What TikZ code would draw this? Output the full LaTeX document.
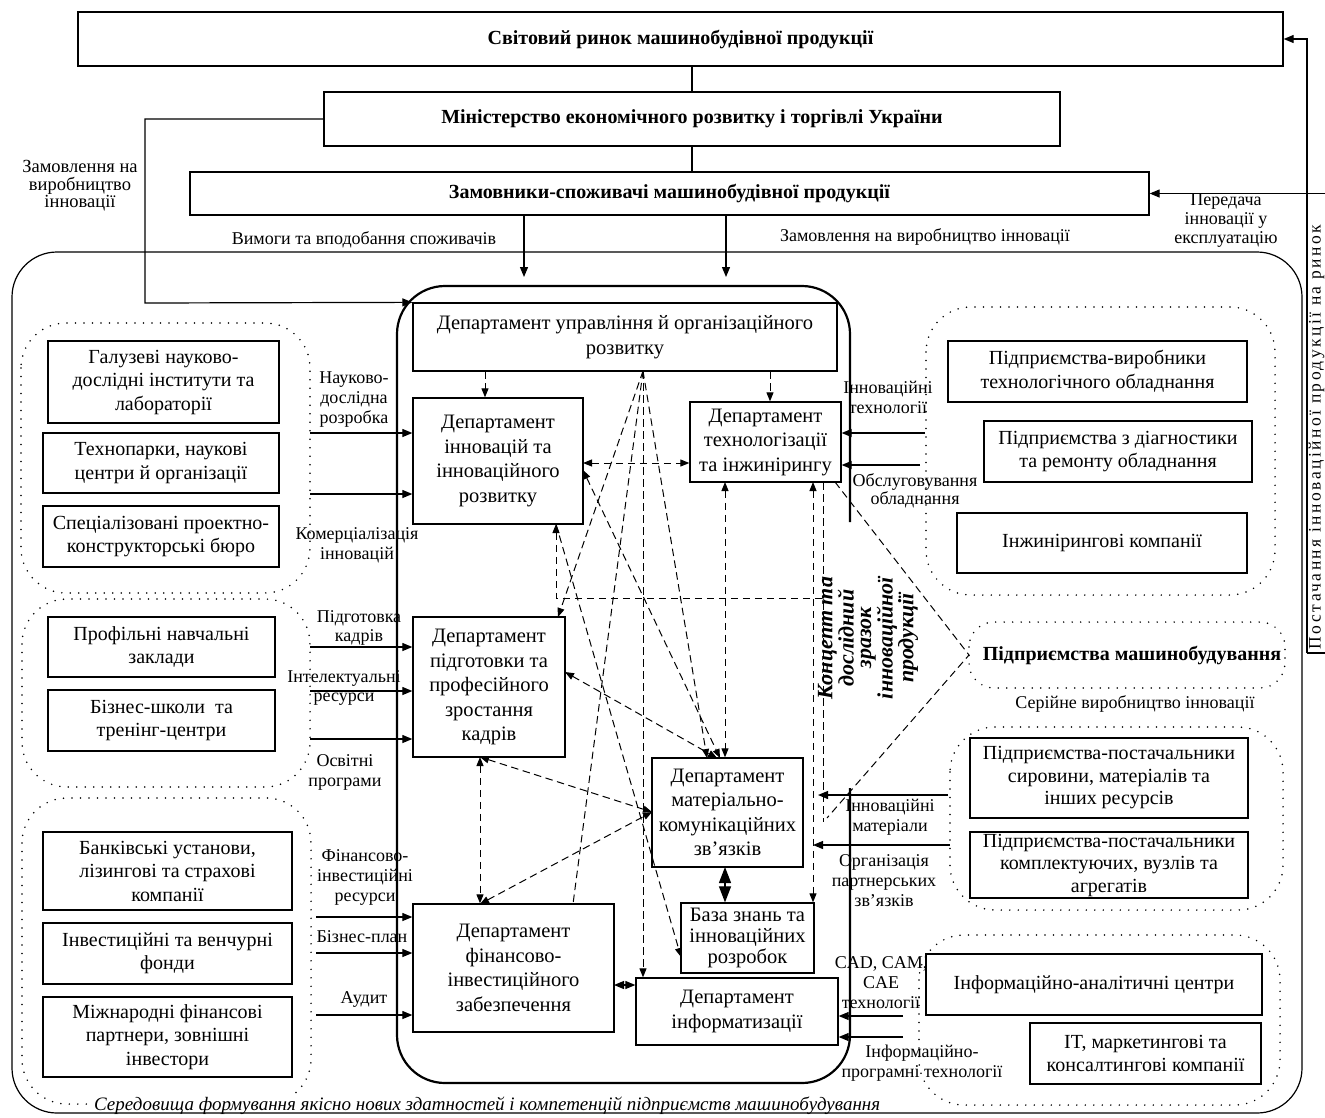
\documentclass[tikz,border=0pt]{standalone}
\usepackage{fontspec}
\setmainfont{Liberation Serif}
\newfontfamily\spacedserif[LetterSpace=14]{Liberation Serif}
\usetikzlibrary{arrows.meta}
\begin{document}
\begin{tikzpicture}[x=1pt,y=-1pt,
  ln/.style={line width=1.2pt},
  sarr/.style={-{Triangle[length=10pt,width=8pt]}},
  sboth/.style={{Triangle[length=10pt,width=8pt]}-{Triangle[length=10pt,width=8pt]}},
  dsh/.style={line width=1pt, dash pattern=on 7.5pt off 4.5pt},
  darr/.style={-{Triangle[length=9pt,width=7pt]}},
  dboth/.style={{Triangle[length=9pt,width=7pt]}-{Triangle[length=9pt,width=7pt]}},
  dstart/.style={{Triangle[length=9pt,width=7pt]}-},
  dots/.style={line width=1.7pt, line cap=round, dash pattern=on 0pt off 8.5pt},
  box/.style={draw, line width=1.3pt, fill=white, align=center, inner sep=0pt, font=\fontsize{20}{23.5}\selectfont},
  dbox/.style={box, font=\fontsize{20.5}{24.5}\selectfont},
  tbox/.style={box, font=\fontsize{20}{24}\selectfont\bfseries},
  lab/.style={align=center, inner sep=0pt, font=\fontsize{18}{20}\selectfont},
]
\useasboundingbox (0,0) rectangle (1325,1117);

% dotted groups
\draw[dots, rounded corners=45pt] (21,323) rectangle (310,593);
\draw[dots, rounded corners=45pt] (22,599) rectangle (310,787);
\draw[dots, rounded corners=45pt] (22,798) rectangle (311,1104);
\draw[dots, rounded corners=45pt] (926,307) rectangle (1275,595);
\draw[dots, rounded corners=25pt] (969,622) rectangle (1285,688);
\draw[dots, rounded corners=45pt] (950,727) rectangle (1283,910);
\draw[dots, rounded corners=45pt] (919,935) rectangle (1280,1105);

\node[anchor=west, fill=white, inner sep=1pt, font=\fontsize{19}{22}\selectfont\itshape] (env) at (93,1106) {Середовища формування якісно нових здатностей і компетенцій підприємств машинобудування};

% outer and inner frames
\draw[line width=1.2pt, rounded corners=45pt] (12,252) rectangle (1302,1113);
\draw[line width=2.2pt, rounded corners=48pt] (850,522) -- (850,286) -- (397,286) -- (397,1083) -- (850,1083) -- (850,788);

% top
\node[tbox, minimum width=1205pt, minimum height=54pt] (W) at (680.5,39) {Світовий ринок машинобудівної продукції};
\node[tbox, minimum width=736pt, minimum height=54pt] (Min) at (692,119) {Міністерство економічного розвитку і торгівлі України};
\node[tbox, minimum width=959pt, minimum height=43pt] (Z) at (669.5,193.5) {Замовники-споживачі машинобудівної продукції};

% departments
\node[dbox, minimum width=424pt, minimum height=68pt] (U) at (625,337) {Департамент управління й організаційного\\розвитку};
\node[dbox, minimum width=170pt, minimum height=126pt] (I) at (498,461) {Департамент\\інновацій та\\інноваційного\\розвитку};
\node[dbox, minimum width=151pt, minimum height=80pt] (T) at (765.5,442) {Департамент\\технологізації\\та інжинірингу};
\node[dbox, minimum width=152pt, minimum height=140pt] (K) at (489,687) {Департамент\\підготовки та\\професійного\\зростання\\кадрів};
\node[dbox, minimum width=151pt, minimum height=109pt] (M) at (727.5,812.5) {Департамент\\матеріально-\\комунікаційних\\зв’язків};
\node[dbox, minimum width=133pt, minimum height=70pt, font=\fontsize{20.5}{21}\selectfont] (B) at (747.5,938) {База знань та\\інноваційних\\розробок};
\node[dbox, minimum width=201pt, minimum height=128pt] (F) at (513.5,968) {Департамент\\фінансово-\\інвестиційного\\забезпечення};
\node[dbox, minimum width=202pt, minimum height=67pt] (N) at (737,1011.5) {Департамент\\інформатизації};

% left boxes
\node[box, minimum width=231pt, minimum height=82pt] (G1a) at (163.5,382) {Галузеві науково-\\дослідні інститути та\\лабораторії};
\node[box, minimum width=236pt, minimum height=60pt] (G1b) at (161,463) {Технопарки, наукові\\центри й організації};
\node[box, minimum width=236pt, minimum height=61pt] (G1c) at (161,536.5) {Спеціалізовані проектно-\\конструкторські бюро};
\node[box, minimum width=227pt, minimum height=60pt] (G2a) at (161.5,647) {Профільні навчальні\\заклади};
\node[box, minimum width=227pt, minimum height=61pt] (G2b) at (161.5,720.5) {Бізнес-школи~ та\\тренінг-центри};
\node[box, minimum width=249pt, minimum height=78pt] (G3a) at (167.5,871) {Банківські установи,\\лізингові та страхові\\компанії};
\node[box, minimum width=249pt, minimum height=61pt] (G3b) at (167.5,953.5) {Інвестиційні та венчурні\\фонди};
\node[box, minimum width=249pt, minimum height=80pt] (G3c) at (167.5,1037) {Міжнародні фінансові\\партнери, зовнішні\\інвестори};

% right boxes
\node[box, minimum width=299pt, minimum height=61pt] (R1a) at (1097.5,371.5) {Підприємства-виробники\\технологічного обладнання};
\node[box, minimum width=268pt, minimum height=61pt] (R1b) at (1118,451.5) {Підприємства з діагностики\\та ремонту обладнання};
\node[box, minimum width=290pt, minimum height=60pt] (R1c) at (1102,543) {Інжинірингові компанії};
\node[inner sep=0pt, font=\fontsize{20}{24}\selectfont\bfseries] (PM) at (1132,655) {Підприємства машинобудування};
\node[box, minimum width=278pt, minimum height=80pt, font=\fontsize{20}{22.5}\selectfont] (R2a) at (1109,778) {Підприємства-постачальники\\сировини, матеріалів та\\інших ресурсів};
\node[box, minimum width=278pt, minimum height=66pt, font=\fontsize{20}{22.5}\selectfont] (R2b) at (1109,865) {Підприємства-постачальники\\комплектуючих, вузлів та\\агрегатів};
\node[box, minimum width=336pt, minimum height=61pt] (R3a) at (1094,984.5) {Інформаційно-аналітичні центри};
\node[box, minimum width=231pt, minimum height=61pt] (R3b) at (1145.5,1053.5) {IT, маркетингові та\\консалтингові компанії};

% rotated texts
\node[rotate=90, anchor=north, inner sep=0pt, font=\fontsize{17.5}{20}\spacedserif] (pst) at (1308.5,437) {Постачання інноваційної продукції на ринок};
\node[rotate=90, align=center, inner sep=0pt, font=\fontsize{22}{17.5}\selectfont\bfseries\itshape] (kc) at (868,638) {Концепт та\\дослідний\\зразок\\інноваційної\\продукції};

% labels
\node[lab, font=\fontsize{18.5}{17.5}\selectfont] (l1) at (80,186) {Замовлення на\\виробництво\\інновації};
\node[lab] (l2) at (364,240) {Вимоги та вподобання споживачів};
\node[lab] (l3) at (925,237) {Замовлення на виробництво інновації};
\node[lab, font=\fontsize{18}{19}\selectfont] (l4) at (1226,221) {Передача\\інновації у\\експлуатацію};
\node[lab] (l5) at (354,400) {Науково-\\дослідна\\розробка};
\node[lab] (l6) at (357,545) {Комерціалізація\\інновацій};
\node[lab, font=\fontsize{18}{18.5}\selectfont] (l7) at (359,628) {Підготовка\\кадрів};
\node[lab, font=\fontsize{18}{19}\selectfont] (l8) at (344,688) {Інтелектуальні\\ресурси};
\node[lab] (l9) at (345,772) {Освітні\\програми};
\node[lab] (l10) at (365,877) {Фінансово-\\інвестиційні\\ресурси};
\node[lab] (l11) at (362,937) {Бізнес-план};
\node[lab] (l12) at (364,999) {Аудит};
\node[lab] (l13) at (888,397) {Інноваційні\\технології};
\node[lab, font=\fontsize{18}{18.5}\selectfont] (l14) at (915,491) {Обслуговування\\обладнання};
\node[lab] (l15) at (890,817) {Інноваційні\\матеріали};
\node[lab] (l16) at (884,881) {Організація\\партнерських\\зв'язків};
\node[lab] (l17) at (881,983) {CAD, CAM,\\CAE\\технології};
\node[lab] (l18) at (922,1063) {Інформаційно-\\програмні технології};
\node[lab] (l19) at (1135,704) {Серійне виробництво інновації};

% top connectors
\draw[ln] (W.south -| Min.north) -- (Min.north);
\draw[ln] (Min.south) -- (Min.south |- Z.north);
\coordinate (mA) at (145,119);
\coordinate (mB) at (145,303);
\draw[ln, sarr] (Min.west) -- (mA) -- (mB) -- (U.north west);
\coordinate (zA) at (524,277);
\coordinate (zB) at (726,277);
\draw[ln, sarr] (Z.south -| zA) -- (zA);
\draw[ln, sarr] (Z.south -| zB) -- (zB);
\coordinate (pE) at (1325,193.5);
\draw[ln, sarr] (pE) -- (Z.east);
\coordinate (pS) at (1307,653);
\coordinate (pT) at (1325,653);
\draw[ln, sarr] (pS) |- (W.east);
\draw[ln] (pS) -- (pT);

% left inputs
\foreach \n/\y in {a/433, b/494} {
  \coordinate (gi\n) at (310,\y);
  \draw[ln, sarr] (gi\n) -- (gi\n -| I.west);
}
\foreach \n/\y in {a/647, b/691, c/739} {
  \coordinate (gk\n) at (310,\y);
  \draw[ln, sarr] (gk\n) -- (gk\n -| K.west);
}
\foreach \n/\y in {a/917, b/953, c/1015} {
  \coordinate (gf\n) at (316,\y);
  \draw[ln, sarr] (gf\n) -- (gf\n -| F.west);
}
% right inputs
\coordinate (rta) at (925,433);
\coordinate (rtb) at (920,465);
\draw[ln, sarr] (rta) -- (rta -| T.east);
\draw[ln, sarr] (rtb) -- (rtb -| T.east);
\coordinate (rma) at (948,795);
\coordinate (rmaE) at (818,795);
\coordinate (rmb) at (950,845);
\coordinate (rmbE) at (813,845);
\draw[ln, sarr] (rma) -- (rmaE);
\draw[ln, sarr] (rmb) -- (rmbE);
\coordinate (rna) at (903,1016);
\coordinate (rnb) at (903,1037);
\draw[ln, sarr] (rna) -- (rna -| N.east);
\draw[ln, sarr] (rnb) -- (rnb -| N.east);

% solid double arrows
\coordinate (fn) at (614,985);
\draw[ln, sboth] (fn) -- (fn -| N.west);
\coordinate (mb) at (725,867);
\draw[ln, {Triangle[length=16pt,width=12pt]}-{Triangle[length=16pt,width=12pt]}] (mb) -- (mb |- B.north);

% dashed network
\coordinate (u0) at (643,371);
\coordinate (ux1) at (485,371);
\coordinate (ux2) at (770,371);
\draw[dsh, darr] (ux1) -- (ux1 |- I.north);
\draw[dsh, darr] (ux2) -- (ux2 |- T.north);
\coordinate (it) at (583,463);
\draw[dsh, dboth] (it) -- (it -| T.west);
\coordinate (kTR) at (558,617);
\draw[dsh, darr] (u0) -- (kTR);
\coordinate (fT) at (573,904);
\draw[dsh] (u0) -- (fT);
\draw[dsh, darr] (u0) -- (u0 |- N.north);
\coordinate (mT1) at (707,758);
\draw[dsh, darr] (u0) -- (mT1);
\coordinate (iR) at (583,470);
\coordinate (mT2) at (720,758);
\draw[dsh, dboth] (iR) -- (mT2);
\coordinate (iB) at (556,524);
\coordinate (bL) at (681,957);
\draw[dsh, darr] (iB) -- (bL);
\coordinate (h1) at (556,598);
\coordinate (h2) at (823,598);
\draw[dsh, dstart] (iB) -- (h1) -- (h2);
\coordinate (tB1) at (725,482);
\draw[dsh, dboth] (tB1) -- (tB1 |- M.north);
\coordinate (tB2) at (813,482);
\draw[dsh, dboth] (tB2) -- (tB2 |- B.north);
\coordinate (tB3) at (823,482);
\coordinate (tB3e) at (823,822);
\draw[dsh] (tB3) -- (tB3e);
\coordinate (tB4) at (835,482);
\coordinate (pmL) at (969,655);
\coordinate (kcB) at (827,818);
\draw[dsh] (tB4) -- (pmL) -- (kcB);
\coordinate (kR) at (565,672);
\coordinate (mT3) at (717,758);
\draw[dsh, dboth] (kR) -- (mT3);
\coordinate (kB) at (480,757);
\draw[dsh, dboth] (kB) -- (kB |- F.north);
\coordinate (mL) at (652,812);
\draw[dsh, dboth] (kB) -- (mL);
\coordinate (fT2) at (480,904);
\draw[dsh, dboth] (fT2) -- (mL);
\end{tikzpicture}
\end{document}
